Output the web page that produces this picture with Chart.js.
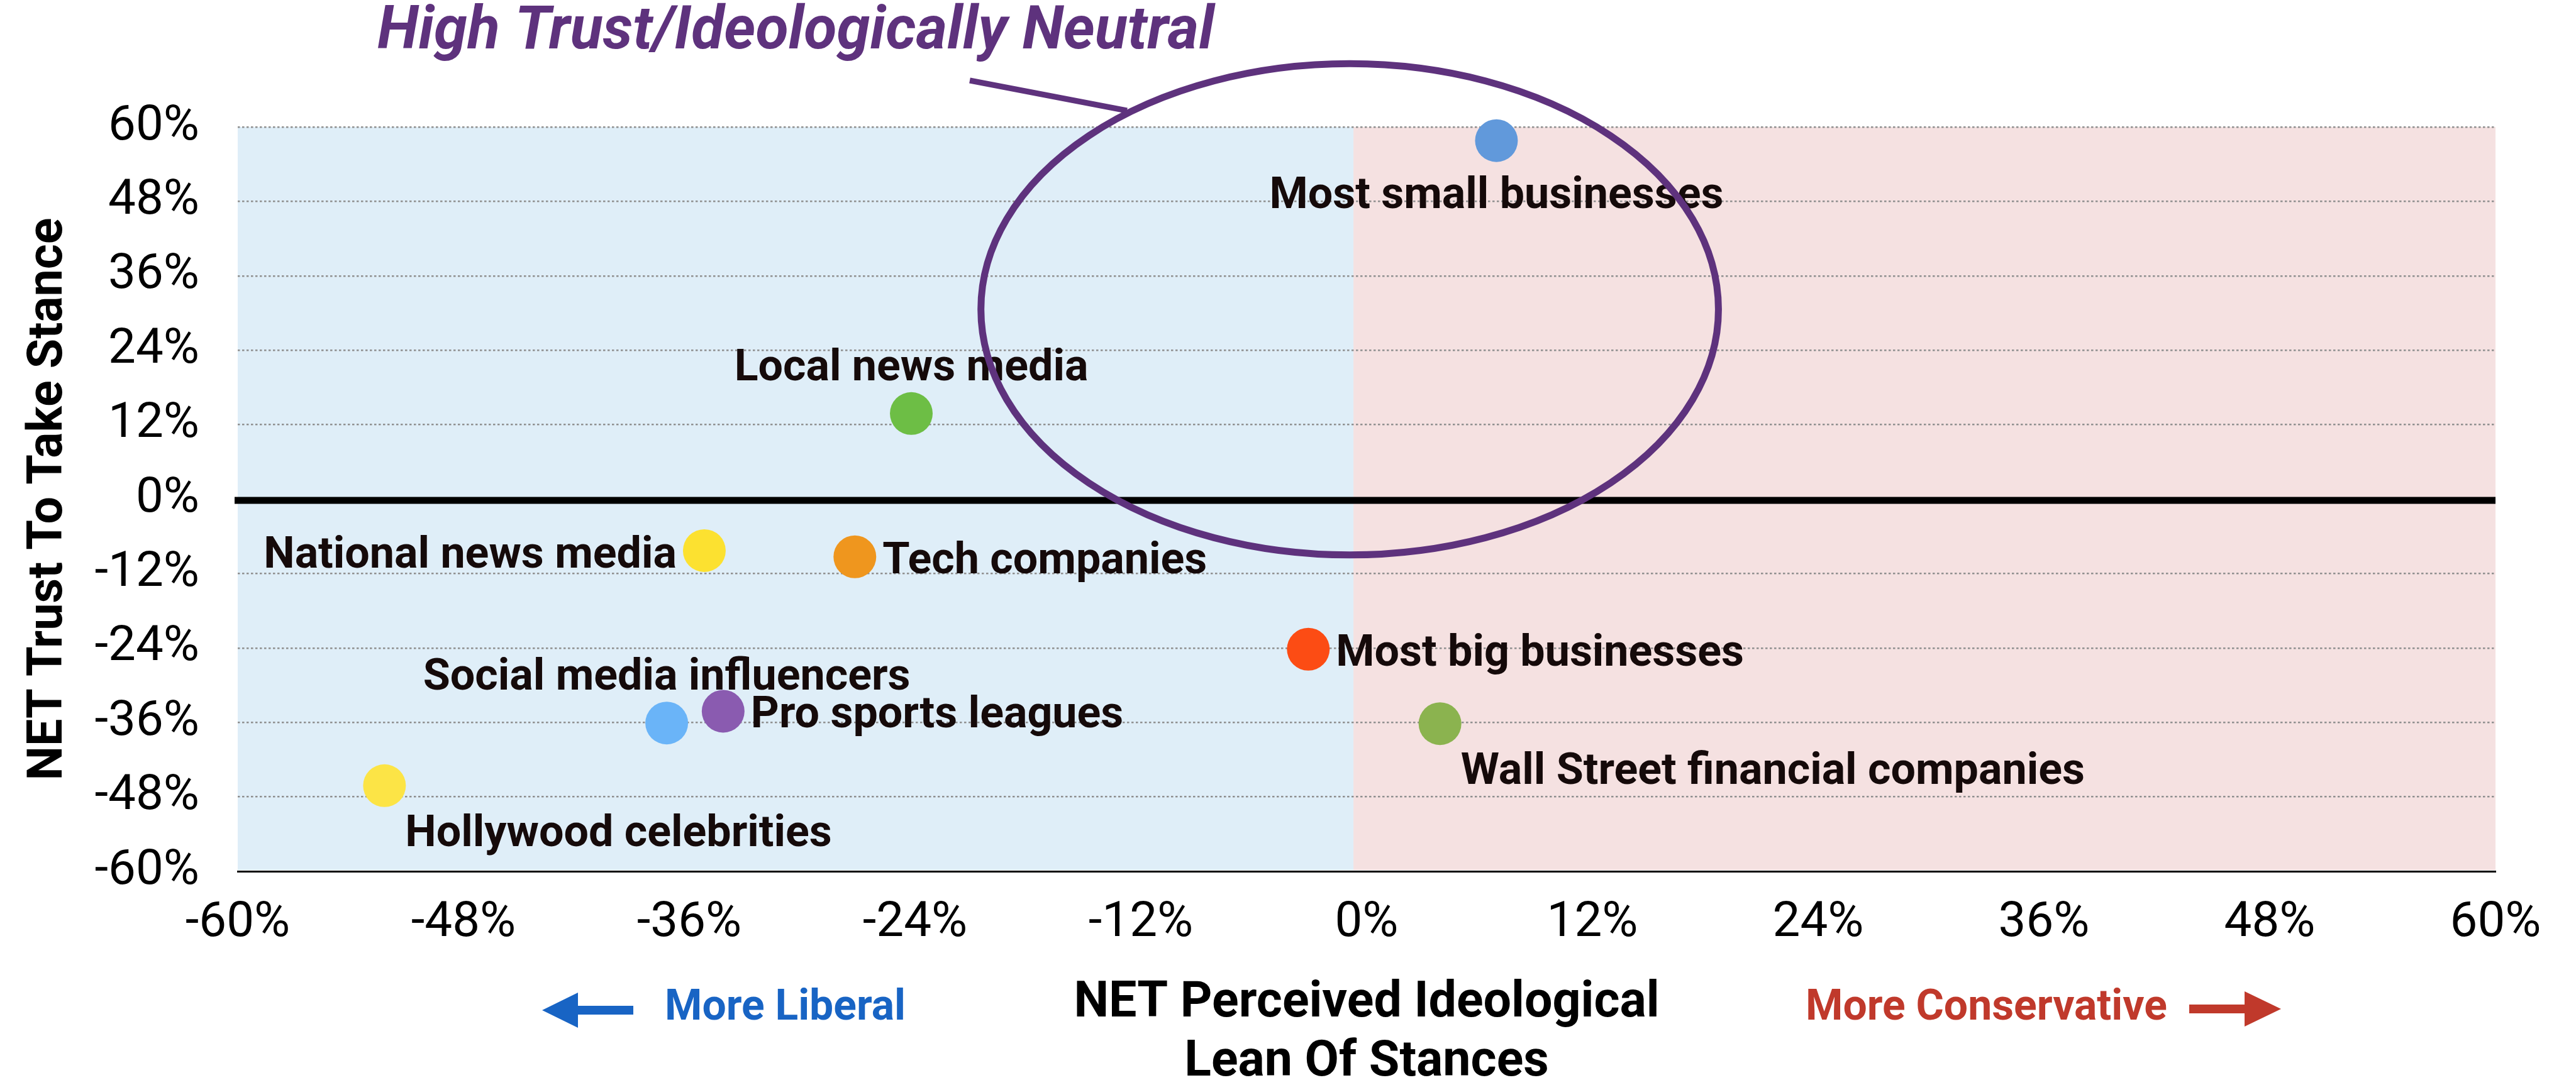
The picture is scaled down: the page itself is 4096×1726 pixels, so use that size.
<!DOCTYPE html>
<html><head><meta charset="utf-8">
<script src="https://cdn.jsdelivr.net/npm/chart.js@4.4.1/dist/chart.umd.min.js"></script>
<style>html,body{margin:0;padding:0;background:#fff;overflow:hidden}#wrap{width:4096px;height:1726px;position:relative}canvas{display:block}</style>
</head><body><div id="wrap"><canvas id="c" width="4096" height="1726"></canvas></div>
<script>
// ---------- DATA ----------
const categories = ["Most small businesses","Local news media","National news media","Tech companies","Most big businesses","Social media influencers","Pro sports leagues","Wall Street financial companies","Hollywood celebrities"];
const leanValues  = [6.9, -24.2, -35.2, -27.2, -3.1, -37.2, -34.2, 3.9, -52.2];
const trustValues = [57.8, 13.8, -8.3, -9.3, -24.2, -36.1, -34.2, -36.2, -46.2];
const tickValues = [-60,-48,-36,-24,-12,0,12,24,36,48,60];
const xAxisTitle = ["NET Perceived Ideological","Lean Of Stances"];
const yAxisTitle = "NET Trust To Take Stance";
const calloutTitle = "High Trust/Ideologically Neutral";
const leftNote = "More Liberal";
const rightNote = "More Conservative";

// ---------- STYLE ----------
const pointColors = ["#6199DB","#6DBE45","#FCE130","#EF961E","#FC4C14","#6AB4F8","#8A5BB0","#8BB34F","#FCE446"];
const labelPlacement = ["below","above","left","right","right","above","right","belowRight","belowRight"];
const labelTargetW = [721,558,662,500,642,775,592,1002,693];
const FAMILY = "Roboto";
const PURPLE = "#5E327D";
const mc = document.createElement('canvas').getContext('2d');
function fitSize(texts, targets, font) {
  let m = 0, t = 0;
  texts.forEach((s, i) => { mc.font = font.replace('SIZE', '100px'); m += mc.measureText(s).width; t += targets[i]; });
  return 100 * t / m;
}
const tickSize = fitSize(["-60%","-48%"], [165,168], "400 SIZE " + FAMILY);
const labelSize = fitSize(categories, labelTargetW, "700 SIZE " + FAMILY);
const yTitleSize = fitSize([yAxisTitle], [895], "700 SIZE " + FAMILY);
const xTitleSize = fitSize(xAxisTitle, [937,574], "700 SIZE " + FAMILY);
const calloutSize = fitSize([calloutTitle], [1331], "italic 700 SIZE " + FAMILY);
const noteSize = fitSize([leftNote, rightNote], [386,572], "700 SIZE " + FAMILY);

const bgPlugin = {
  id: 'bg',
  beforeDraw(chart) {
    const {ctx, chartArea: a, scales: {x}} = chart;
    const mid = x.getPixelForValue(-0.7);
    ctx.save();
    ctx.fillStyle = "#DFEEF8"; ctx.fillRect(a.left, a.top, mid - a.left, a.bottom - a.top - 2);
    ctx.fillStyle = "#F5E1E1"; ctx.fillRect(mid, a.top, a.right - mid, a.bottom - a.top - 2);
    ctx.restore();
  },
  beforeDatasetsDraw(chart) {
    const {ctx, chartArea: a, scales: {y}} = chart;
    const y0 = y.getPixelForValue(0);
    ctx.save();
    ctx.strokeStyle = "#000"; ctx.lineWidth = 11;
    ctx.beginPath(); ctx.moveTo(a.left - 5, y0 + 2); ctx.lineTo(a.right, y0 + 2); ctx.stroke();
    ctx.restore();
  },
  afterDraw(chart) {
    const {ctx, scales: {x, y}} = chart;
    ctx.save();
    // point labels
    ctx.fillStyle = "#150a0a";
    ctx.font = "700 " + labelSize + "px " + FAMILY;
    ctx.textBaseline = "alphabetic";
    categories.forEach((name, i) => {
      const px = x.getPixelForValue(leanValues[i]);
      const py = y.getPixelForValue(trustValues[i]);
      const p = labelPlacement[i];
      if (p === "below") { ctx.textAlign = "center"; ctx.fillText(name, px, py + 107); }
      else if (p === "above") { ctx.textAlign = "center"; ctx.fillText(name, px, py - 53); }
      else if (p === "left") { ctx.textAlign = "right"; ctx.fillText(name, px - 44, py + 27); }
      else if (p === "right") { ctx.textAlign = "left"; ctx.fillText(name, px + 44, py + 26); }
      else { ctx.textAlign = "left"; ctx.fillText(name, px + 33, py + 96); }
    });
    // notes + arrows
    ctx.textAlign = "left";
    ctx.font = "700 " + noteSize + "px " + FAMILY;
    ctx.fillStyle = "#1864C4";
    ctx.fillText(leftNote, 1057, 1622);
    ctx.beginPath();
    ctx.moveTo(862, 1607); ctx.lineTo(919, 1579); ctx.lineTo(919, 1600); ctx.lineTo(1007, 1600);
    ctx.lineTo(1007, 1614); ctx.lineTo(919, 1614); ctx.lineTo(919, 1635); ctx.closePath(); ctx.fill();
    ctx.fillStyle = "#C0392B";
    ctx.fillText(rightNote, 2871, 1622);
    ctx.beginPath();
    ctx.moveTo(3627, 1605); ctx.lineTo(3569, 1577); ctx.lineTo(3569, 1598); ctx.lineTo(3481, 1598);
    ctx.lineTo(3481, 1612); ctx.lineTo(3569, 1612); ctx.lineTo(3569, 1633); ctx.closePath(); ctx.fill();
    // callout title
    ctx.fillStyle = PURPLE;
    ctx.font = "italic 700 " + calloutSize + "px " + FAMILY;
    ctx.fillText(calloutTitle, 600, 77);
    // connector
    ctx.strokeStyle = PURPLE; ctx.lineWidth = 9;
    ctx.beginPath(); ctx.moveTo(1542, 128); ctx.lineTo(1792, 176); ctx.stroke();
    // ellipse (in data units)
    const cx = x.getPixelForValue(-0.9), cy = y.getPixelForValue(30.6);
    const rx = x.getPixelForValue(-0.9 + 19.6) - cx, ry = cy - y.getPixelForValue(30.6 + 39.6);
    ctx.lineWidth = 11;
    ctx.beginPath(); ctx.ellipse(cx, cy, rx, ry, 0, 0, Math.PI * 2); ctx.stroke();
    ctx.restore();
  }
};

const tickLH = tickSize * 1.2;
const yTitleLH = yTitleSize * 1.2;

new Chart(document.getElementById('c'), {
  type: 'scatter',
  data: {
    datasets: [{
      data: leanValues.map((v, i) => ({x: v, y: trustValues[i]})),
      pointRadius: 34, pointHoverRadius: 34, pointBorderWidth: 0,
      pointBackgroundColor: pointColors, pointBorderColor: pointColors,
      clip: false
    }]
  },
  options: {
    responsive: false, animation: false, devicePixelRatio: 1,
    layout: {padding: {left: 0, top: 202, right: 128, bottom: 0}},
    plugins: {legend: {display: false}, tooltip: {enabled: false}},
    scales: {
      x: {
        type: 'linear', min: -60, max: 60,
        afterFit: s => { s.height = 340; },
        afterBuildTicks: s => { s.ticks = tickValues.map(v => ({value: v})); },
        grid: {display: true, color: 'rgba(0,0,0,0)', drawTicks: false},
        border: {display: true, color: '#000', width: 3},
        ticks: {color: '#000', font: {family: FAMILY, size: tickSize, weight: 400}, padding: Math.round(1470 - 1386 - tickLH / 2), callback: v => v + '%'},
        title: {display: true, text: xAxisTitle, color: '#000', font: {family: FAMILY, size: xTitleSize, weight: 700, lineHeight: '94px'}, padding: {top: 0, bottom: -12}}
      },
      y: {
        type: 'linear', min: -60, max: 60,
        afterFit: s => { s.width = 378; },
        afterBuildTicks: s => { s.ticks = tickValues.map(v => ({value: v})); },
        grid: {display: true, color: '#8f8f8f', lineWidth: 2.5, drawTicks: false},
        border: {display: false, dash: [3.5, 3.5]},
        ticks: {color: '#000', font: {family: FAMILY, size: tickSize, weight: 400}, padding: 61, callback: v => v + '%'},
        title: {display: true, text: yAxisTitle, color: '#000', font: {family: FAMILY, size: yTitleSize, weight: 700}, padding: {top: Math.round(78 - yTitleLH / 2), bottom: 0}}
      }
    }
  },
  plugins: [bgPlugin]
});
</script></body></html>
